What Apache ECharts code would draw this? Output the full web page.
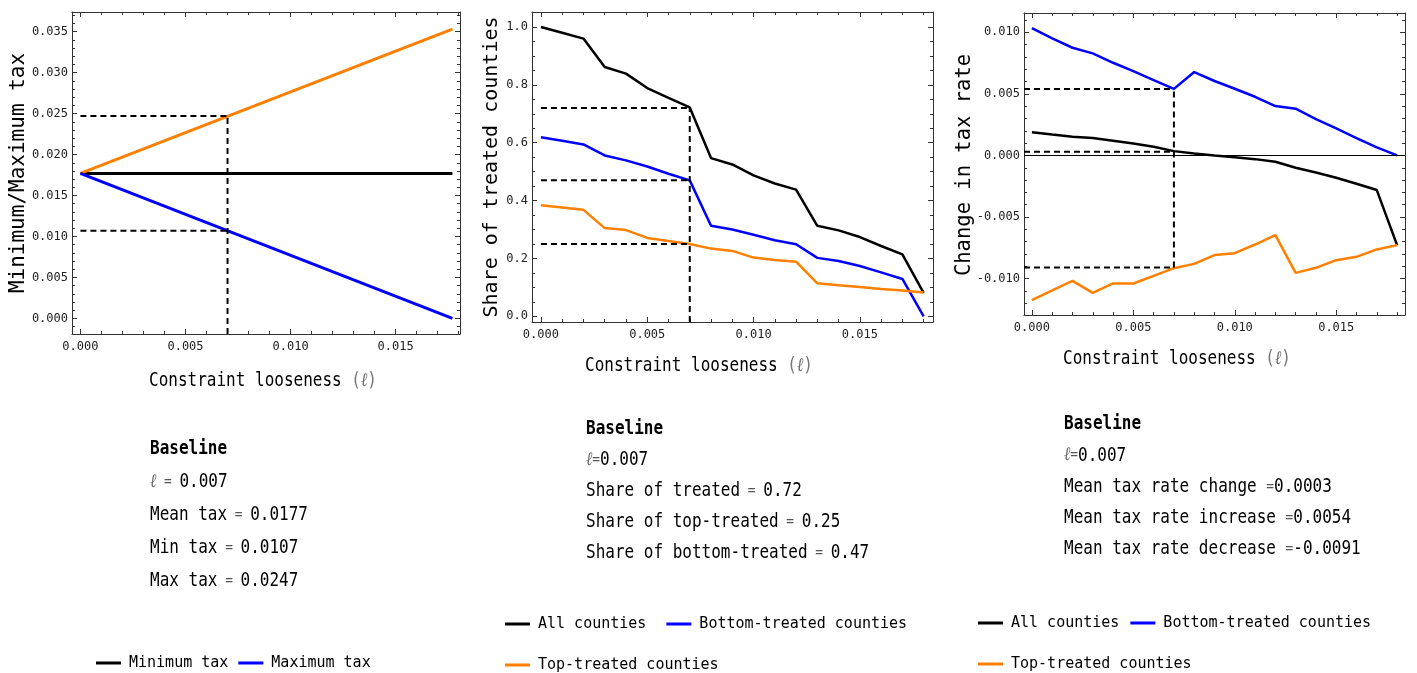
<!DOCTYPE html>
<html>
<head>
<meta charset="utf-8">
<script src="https://cdn.jsdelivr.net/npm/echarts@6/dist/echarts.min.js"></script>
<style>html,body{margin:0;padding:0;background:#fff}#c{width:1417px;height:673px}</style>
</head>
<body>
<div id="c"></div>
<script>
// ---------- data ----------
const looseness = [0, 0.001, 0.002, 0.003, 0.004, 0.005, 0.006, 0.007, 0.008, 0.009, 0.010, 0.011, 0.012, 0.013, 0.014, 0.015, 0.016, 0.017, 0.018];

// Panel 1: minimum / maximum tax (straight lines)
const p1X = [0, 0.0177];
const p1Mean = [0.0177, 0.0177];
const p1Max = [0.0177, 0.0353];
const p1Min = [0.0177, 0.0];

// Panel 2: share of treated counties
const p2All = [1.000, 0.980, 0.960, 0.862, 0.839, 0.789, 0.755, 0.722, 0.547, 0.525, 0.487, 0.459, 0.438, 0.313, 0.297, 0.274, 0.243, 0.214, 0.081];
const p2Bottom = [0.619, 0.607, 0.594, 0.556, 0.539, 0.518, 0.493, 0.470, 0.313, 0.300, 0.282, 0.263, 0.249, 0.202, 0.191, 0.174, 0.152, 0.129, 0.000];
const p2Top = [0.384, 0.376, 0.368, 0.305, 0.298, 0.271, 0.260, 0.250, 0.234, 0.226, 0.203, 0.195, 0.189, 0.114, 0.107, 0.101, 0.094, 0.089, 0.082];

// Panel 3: change in tax rate
const p3All = [0.00189, 0.00170, 0.00152, 0.00141, 0.00119, 0.00097, 0.00070, 0.00035, 0.00016, 0.00000, -0.00014, -0.00030, -0.00051, -0.00100, -0.00138, -0.00181, -0.00230, -0.00281, -0.00728];
const p3Bottom = [0.01034, 0.00950, 0.00874, 0.00828, 0.00752, 0.00685, 0.00612, 0.00540, 0.00677, 0.00604, 0.00541, 0.00476, 0.00401, 0.00379, 0.00295, 0.00219, 0.00141, 0.00065, 0.00000];
const p3Top = [-0.01175, -0.01096, -0.01018, -0.01115, -0.01039, -0.01039, -0.00977, -0.00915, -0.00880, -0.00809, -0.00793, -0.00723, -0.00647, -0.00953, -0.00912, -0.00850, -0.00823, -0.00763, -0.00728];

// Baseline markers
const baseL = 0.007;
const p1Base = [0.0247, 0.0107];
const p2Base = [0.72, 0.47, 0.25];
const p3Base = [0.0054, 0.0003, -0.0091];

// Tick labels (major ticks)
const xMajor = [0, 0.005, 0.010, 0.015];
const p1YMajor = [0, 0.005, 0.010, 0.015, 0.020, 0.025, 0.030, 0.035];
const p2YMajor = [0, 0.2, 0.4, 0.6, 0.8, 1.0];
const p3YMajor = [-0.010, -0.005, 0, 0.005, 0.010];

// Text
const xTitle = 'Constraint looseness ';
const yTitles = ['Minimum/Maximum tax', 'Share of treated counties', 'Change in tax rate'];
const p1Notes = [['ℓ', ' = ', '0.007'], ['Mean tax', ' = ', '0.0177'], ['Min tax', ' = ', '0.0107'], ['Max tax', ' = ', '0.0247']];
const p2Notes = [['ℓ', '=', '0.007'], ['Share of treated', ' = ', '0.72'], ['Share of top-treated', ' = ', '0.25'], ['Share of bottom-treated', ' = ', '0.47']];
const p3Notes = [['ℓ', '=', '0.007'], ['Mean tax rate change ', '=', '0.0003'], ['Mean tax rate increase ', '=', '0.0054'], ['Mean tax rate decrease ', '=', '-0.0091']];

// ---------- helpers ----------
const MONO = '"DejaVu Sans Mono", monospace';
const BLACK = '#000000', BLUE = '#0000ff', ORANGE = '#ff8000';
const FRAME = '#333333';

function steps(a, b, s) {
  const out = [];
  const n = Math.round((b - a) / s);
  for (let i = 0; i <= n; i++) out.push(Math.round((a + i * s) * 1e6) / 1e6);
  return out;
}

const panels = [
  {grid: {left: 72, top: 12, width: 388, height: 322}, x: [-0.0004, 0.01806], y: [-0.0019, 0.0374],
   xMaj: xMajor, xMin: steps(0, 0.018, 0.001), yMaj: p1YMajor, yMin: steps(-0.001, 0.037, 0.001), yFmt: v => v.toFixed(3)},
  {grid: {left: 532, top: 12, width: 401, height: 310}, x: [-0.00042, 0.01844], y: [-0.0197, 1.052],
   xMaj: xMajor, xMin: steps(0, 0.018, 0.001), yMaj: p2YMajor, yMin: steps(0, 1.05, 0.05), yFmt: v => v.toFixed(1)},
  {grid: {left: 1024, top: 13, width: 381, height: 302}, x: [-0.00039, 0.01839], y: [-0.01295, 0.01156],
   xMaj: xMajor, xMin: steps(0, 0.018, 0.001), yMaj: p3YMajor, yMin: steps(-0.012, 0.011, 0.001), yFmt: v => v.toFixed(3)}
];

const grids = [], xAxes = [], yAxes = [];
const labelStyle = {fontFamily: MONO, fontSize: 12, color: '#222'};
panels.forEach((p, i) => {
  // major grid (index 2i) and minor-tick grid (index 2i+1) share the same rectangle
  grids.push(Object.assign({}, p.grid));
  grids.push(Object.assign({}, p.grid));
  const gMaj = 2 * i, gMin = 2 * i + 1;
  [['bottom', true], ['top', false]].forEach(([pos, lab]) => {
    xAxes.push({gridIndex: gMaj, type: 'value', position: pos, min: p.x[0], max: p.x[1],
      axisLine: {show: true, onZero: false, lineStyle: {color: FRAME, width: 1}},
      axisTick: {show: true, inside: true, length: 5, customValues: p.xMaj, lineStyle: {color: FRAME}},
      axisLabel: {show: lab, customValues: p.xMaj, margin: 7, formatter: v => v.toFixed(3), ...labelStyle},
      splitLine: {show: false}});
    xAxes.push({gridIndex: gMin, type: 'value', position: pos, min: p.x[0], max: p.x[1],
      axisLine: {show: false, onZero: false},
      axisTick: {show: true, inside: true, length: 3, customValues: p.xMin, lineStyle: {color: FRAME}},
      axisLabel: {show: false}, splitLine: {show: false}});
  });
  [['left', true], ['right', false]].forEach(([pos, lab]) => {
    yAxes.push({gridIndex: gMaj, type: 'value', position: pos, min: p.y[0], max: p.y[1],
      axisLine: {show: true, onZero: false, lineStyle: {color: FRAME, width: 1}},
      axisTick: {show: true, inside: true, length: 5, customValues: p.yMaj, lineStyle: {color: FRAME}},
      axisLabel: {show: lab, customValues: p.yMaj, margin: 4, formatter: p.yFmt, ...labelStyle},
      splitLine: {show: false}});
    yAxes.push({gridIndex: gMin, type: 'value', position: pos, min: p.y[0], max: p.y[1],
      axisLine: {show: false, onZero: false},
      axisTick: {show: true, inside: true, length: 3, customValues: p.yMin, lineStyle: {color: FRAME}},
      axisLabel: {show: false}, splitLine: {show: false}});
  });
});
// axis index of the major bottom x axis / major left y axis of panel i
const xIdx = i => 4 * i;
const yIdx = i => 4 * i;

function line(panel, name, xs, ys, color, width) {
  return {type: 'line', name, xAxisIndex: xIdx(panel), yAxisIndex: yIdx(panel),
    data: xs.map((x, k) => [x, ys[k]]), showSymbol: false, symbol: 'none',
    lineStyle: {color, width}, itemStyle: {color}, z: 3, animation: false, silent: true};
}
function dashed(panel, pts) {
  return {type: 'line', xAxisIndex: xIdx(panel), yAxisIndex: yIdx(panel), data: pts,
    showSymbol: false, symbol: 'none', lineStyle: {color: '#000', width: 2, type: [6, 4]},
    z: 4, animation: false, silent: true};
}

const series = [];
// Panel 1
series.push(line(0, 'Mean tax', p1X, p1Mean, BLACK, 3));
series.push(line(0, 'Maximum tax', p1X, p1Max, ORANGE, 3));
series.push(line(0, 'Minimum tax', p1X, p1Min, BLUE, 3));
series.push(dashed(0, [[baseL, panels[0].y[0]], [baseL, p1Base[0]]]));
p1Base.forEach(v => series.push(dashed(0, [[0, v], [baseL, v]])));
// Panel 2
series.push(line(1, 'All counties', looseness, p2All, BLACK, 2.5));
series.push(line(1, 'Bottom-treated counties', looseness, p2Bottom, BLUE, 2.5));
series.push(line(1, 'Top-treated counties', looseness, p2Top, ORANGE, 2.5));
series.push(dashed(1, [[baseL, panels[1].y[0]], [baseL, p2Base[0]]]));
p2Base.forEach(v => series.push(dashed(1, [[0, v], [baseL, v]])));
// Panel 3
const p3AllSeries = line(2, 'All counties', looseness, p3All, BLACK, 2.5);
p3AllSeries.markLine = {silent: true, symbol: 'none', label: {show: false}, animation: false,
  lineStyle: {color: '#000', width: 1, type: 'solid'}, data: [{yAxis: 0}]};
series.push(p3AllSeries);
series.push(line(2, 'Bottom-treated counties', looseness, p3Bottom, BLUE, 2.5));
series.push(line(2, 'Top-treated counties', looseness, p3Top, ORANGE, 2.5));
series.push(dashed(2, [[baseL, p3Base[2]], [baseL, p3Base[0]]]));
p3Base.forEach(v => series.push(dashed(2, [[panels[2].x[0], v], [baseL, v]])));

// ---------- graphic text ----------
const SX = 0.8;
const richDefs = {
  b: {fontFamily: MONO, fontSize: 20, fontWeight: 'bold', fill: '#000'},
  t: {fontFamily: MONO, fontSize: 20, fill: '#000'},
  l: {fontFamily: MONO, fontSize: 19, fontStyle: 'italic', fill: '#666'},
  e: {fontFamily: MONO, fontSize: 16, fill: '#555'},
  g: {fontFamily: MONO, fontSize: 20, fill: '#777'}
};
function textEl(x, y, richText, align) {
  return {type: 'text', x, y, scaleX: SX, originX: 0, originY: 0, silent: true,
    style: {text: richText, x: 0, y: 0, fontFamily: MONO, fontSize: 20, fill: '#000',
      align: align || 'left', verticalAlign: 'middle', rich: richDefs}};
}
const graphics = [];
// x axis titles
[[263, 381], [699, 366], [1177, 359]].forEach(([cx, cy]) => {
  graphics.push(textEl(cx, cy, '{t|' + xTitle + '}{g|(}{l|ℓ}{g|)}', 'center'));
});
// y axis titles
const yTitleSizes = [21, 20, 20.5];
[[19, 173], [492, 167], [965, 165]].forEach(([cx, cy], i) => {
  graphics.push({type: 'text', x: cx, y: cy, rotation: Math.PI / 2, silent: true,
    style: {text: yTitles[i], x: 0, y: 0, fontFamily: MONO, fontSize: yTitleSizes[i], fill: '#000',
      align: 'center', verticalAlign: 'middle'}});
});
// baseline notes
function notes(x, y0, dy, list) {
  graphics.push(textEl(x, y0, '{b|Baseline}'));
  list.forEach((n, k) => {
    const head = n[0] === 'ℓ' ? '{l|ℓ}' : '{t|' + n[0] + '}';
    graphics.push(textEl(x, y0 + dy * (k + 1), head + '{e|' + n[1] + '}{t|' + n[2] + '}'));
  });
}
notes(150, 449, 33, p1Notes);
notes(586, 429, 31, p2Notes);
notes(1064, 424, 31.3, p3Notes);

// ---------- legends ----------
const legendBase = {orient: 'horizontal', padding: 0, itemWidth: 25, itemHeight: 3, icon: 'rect',
  textStyle: {fontFamily: MONO, fontSize: 15, color: '#000', lineHeight: 18, padding: [0, 0, 0, 3]},
  selectedMode: false};
const legends = [
  Object.assign({}, legendBase, {left: 96, top: 654, itemGap: 10,
    data: [{name: 'Minimum tax', itemStyle: {color: BLACK}}, {name: 'Maximum tax', itemStyle: {color: BLUE}}]}),
  Object.assign({}, legendBase, {left: 505, top: 615, itemGap: 20,
    data: [{name: 'All counties', itemStyle: {color: BLACK}}, {name: 'Bottom-treated counties', itemStyle: {color: BLUE}}]}),
  Object.assign({}, legendBase, {left: 505, top: 656, itemGap: 20,
    data: [{name: 'Top-treated counties', itemStyle: {color: ORANGE}}]}),
  Object.assign({}, legendBase, {left: 978, top: 614, itemGap: 11,
    data: [{name: 'All counties', itemStyle: {color: BLACK}}, {name: 'Bottom-treated counties', itemStyle: {color: BLUE}}]}),
  Object.assign({}, legendBase, {left: 978, top: 655, itemGap: 11,
    data: [{name: 'Top-treated counties', itemStyle: {color: ORANGE}}]})
];

const chart = echarts.init(document.getElementById('c'), null, {renderer: 'canvas'});
chart.setOption({
  animation: false,
  backgroundColor: '#ffffff',
  grid: grids,
  xAxis: xAxes,
  yAxis: yAxes,
  legend: legends,
  series,
  graphic: graphics
});
</script>
</body>
</html>
